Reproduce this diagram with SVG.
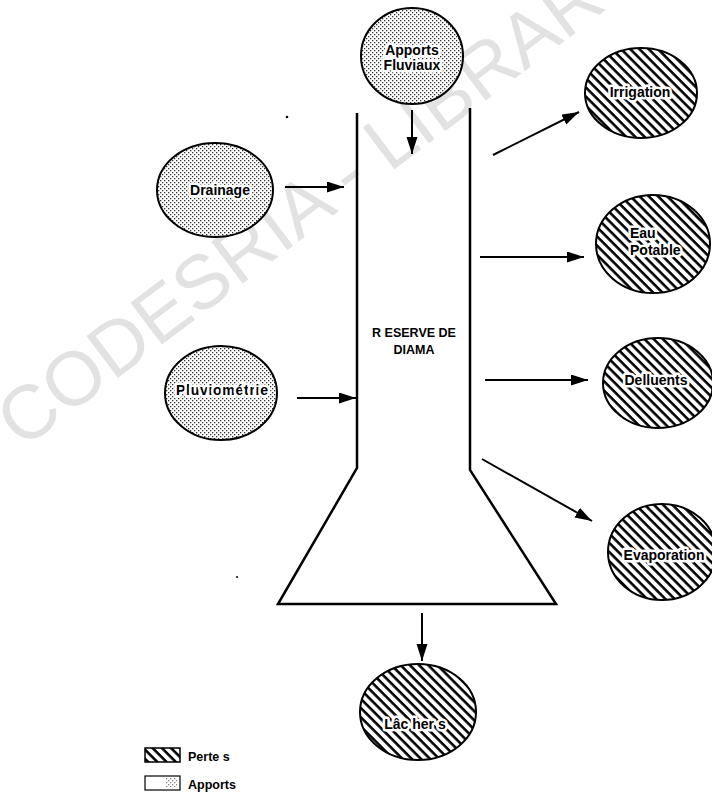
<svg xmlns="http://www.w3.org/2000/svg" width="712" height="806" viewBox="0 0 712 806">
<style>
.lbl{font-family:"Liberation Sans",Arial,sans-serif;font-weight:bold;font-size:14px;fill:#000;stroke:#fff;stroke-width:5px;stroke-linejoin:round;paint-order:stroke}
.tank-lbl{font-family:"Liberation Sans",Arial,sans-serif;font-weight:bold;font-size:12.5px;fill:#000}
.leg{font-family:"Liberation Sans",Arial,sans-serif;font-weight:bold;font-size:12.5px;fill:#000}
.in{fill:url(#dots);stroke:#000;stroke-width:2}
.out{fill:url(#hatch);stroke:#000;stroke-width:2}
.arr{stroke:#000;stroke-width:2;fill:none;marker-end:url(#ah)}
.wm{font-family:"Liberation Sans",Arial,sans-serif;font-size:76px;fill:#e2e2e2}
</style>
<defs>
<pattern id="dots" width="4" height="4" patternUnits="userSpaceOnUse">
<rect width="4" height="4" fill="#fff"/>
<rect x="0" y="0" width="1.3" height="1.3" fill="#333"/>
<rect x="2" y="2" width="1.3" height="1.3" fill="#333"/>
</pattern>
<pattern id="hatch" width="6.5" height="6.5" patternUnits="userSpaceOnUse" patternTransform="rotate(-45)">
<rect width="6.5" height="6.5" fill="#fff"/>
<line x1="1.5" y1="0" x2="1.5" y2="6.5" stroke="#000" stroke-width="2.6"/>
</pattern>
<marker id="ah" markerUnits="userSpaceOnUse" markerWidth="18" markerHeight="12" refX="17" refY="5.5" orient="auto">
<path d="M0,0 L17,5.5 L0,11 Z" fill="#000"/>
</marker>
</defs>
<rect width="712" height="806" fill="#fff"/>
<g id="watermark">
<text class="wm" transform="translate(22,450) rotate(-37)">CODESRIA - LIBRARY</text>
</g>
<g id="reserve">
<path d="M357,113 V468 L278,604 H556 L470,470 V108" fill="none" stroke="#000" stroke-width="2.5" stroke-linejoin="miter"/>
<text class="tank-lbl" x="414" y="337" text-anchor="middle">R ESERVE DE</text>
<text class="tank-lbl" x="414" y="354" text-anchor="middle">DIAMA</text>
</g>
<g id="connectors">
<line class="arr" x1="412" y1="110" x2="412" y2="154"/>
<line class="arr" x1="285" y1="187" x2="344" y2="187"/>
<line class="arr" x1="297" y1="398" x2="356" y2="398"/>
<line class="arr" x1="493" y1="155" x2="579" y2="112"/>
<line class="arr" x1="480" y1="257" x2="584" y2="257"/>
<line class="arr" x1="485" y1="380" x2="588" y2="380"/>
<line class="arr" x1="482" y1="459" x2="592" y2="521"/>
<line class="arr" x1="422" y1="613" x2="422" y2="661"/>
</g>
<g id="apports-fluviaux">
<ellipse class="in" cx="412" cy="56" rx="51" ry="48"/>
<text class="lbl" x="412" y="55" text-anchor="middle">Apports</text>
<text class="lbl" x="412" y="70" text-anchor="middle">Fluviaux</text>
</g>
<g id="drainage">
<ellipse class="in" cx="215" cy="190" rx="58" ry="47"/>
<text class="lbl" x="220" y="195" text-anchor="middle">Drainage</text>
</g>
<g id="pluviometrie">
<ellipse class="in" cx="221" cy="393" rx="56" ry="47"/>
<text class="lbl" x="222" y="395" text-anchor="middle" textLength="92">Pluviométrie</text>
</g>
<g id="irrigation">
<ellipse class="out" cx="641" cy="93" rx="56" ry="45"/>
<text class="lbl" x="640" y="97" text-anchor="middle">Irrigation</text>
</g>
<g id="eau-potable">
<ellipse class="out" cx="653" cy="244" rx="57" ry="49"/>
<text class="lbl" x="630" y="238">Eau</text>
<text class="lbl" x="630" y="255">Potable</text>
</g>
<g id="delluents">
<ellipse class="out" cx="658" cy="383" rx="55" ry="45"/>
<text class="lbl" x="656" y="385" text-anchor="middle">Delluents</text>
</g>
<g id="evaporation">
<ellipse class="out" cx="662" cy="552" rx="54" ry="48"/>
<text class="lbl" x="664" y="560" text-anchor="middle">Evaporation</text>
</g>
<g id="lachers">
<ellipse class="out" cx="418" cy="712" rx="58" ry="48"/>
<text class="lbl" x="415" y="729" text-anchor="middle">Lâc her s</text>
</g>
<g id="legend">
<rect x="145" y="748" width="35" height="14" fill="url(#hatch)" stroke="#000" stroke-width="1.5"/>
<text class="leg" x="188" y="761">Perte s</text>
<rect x="145" y="776" width="35" height="14" fill="#fff" stroke="#000" stroke-width="1.2"/>
<rect x="166" y="778" width="11" height="9" fill="url(#dots)" opacity="0.6"/>
<text class="leg" x="188" y="789">Apports</text>
</g>
<g id="specks">
<circle cx="287" cy="117" r="1.3" fill="#000"/>
<circle cx="237" cy="577" r="1" fill="#000"/>
</g>
</svg>
